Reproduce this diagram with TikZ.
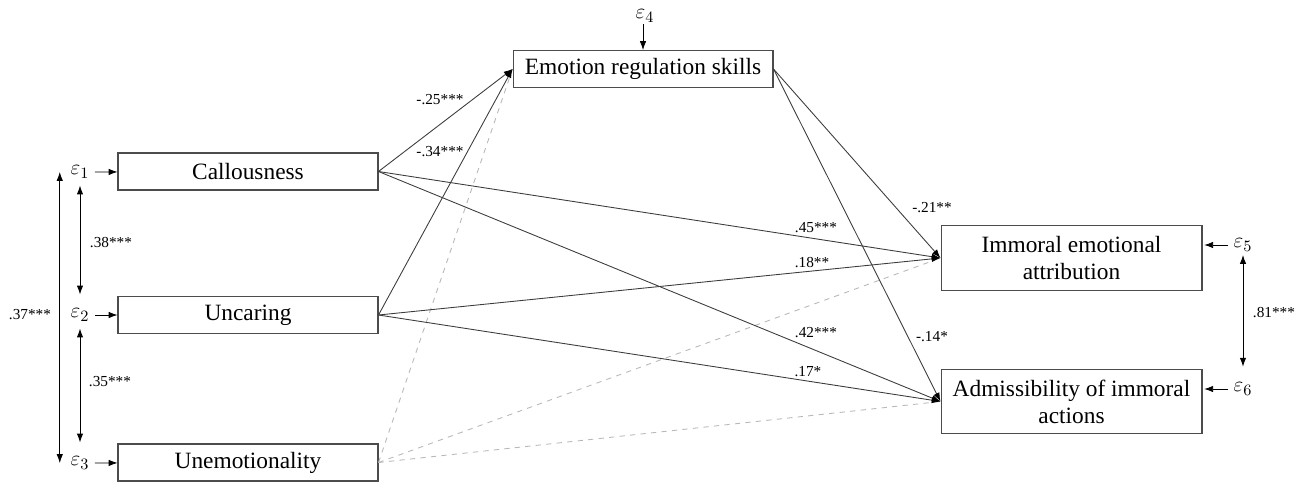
\documentclass[tikz,border=0pt]{standalone}
\usepackage{amsmath,amssymb}
\usepackage{fontspec}
\setmainfont{Liberation Serif}
\usepackage{xcolor}
\usepackage{tikz}
\usetikzlibrary{arrows.meta}
\definecolor{pathgray}{HTML}{3C3C3C}
\definecolor{nsgray}{HTML}{B8B8B8}

\begin{document}
\begin{tikzpicture}[>={Latex[length=5pt,width=3.6pt,color=black]}, x=0.02cm, y=-0.02cm,
  var/.style={draw=black!70, line width=0.6pt, minimum width=5.2cm, minimum height=0.74cm,
    inner sep=0pt, font=\fontsize{13.3}{15.5}\selectfont},
  outvar/.style={var, minimum width=5.22cm, minimum height=1.29cm, align=center},
  err/.style={inner sep=1pt, font=\fontsize{12.5}{14}\selectfont},
  coef/.style={inner sep=0pt, font=\fontsize{8.7}{10}\selectfont},
  sig/.style={->, pathgray, line width=0.5pt},
  nonsig/.style={-, nsgray, dashed, line width=0.5pt},
  cov/.style={<->, black, line width=0.5pt, shorten <=3pt, shorten >=7pt}]
  \useasboundingbox (0,0) rectangle (1303,481);
  % variables
  \node[var] (call) at (248,171.5) {Callousness};
  \node[var] (uncar) at (248,315) {Uncaring};
  \node[var] (unemo) at (248,462.5) {Unemotionality};
  \node[var] (ers) at (643,69) {Emotion regulation skills};
  \node[outvar] (iea) at (1071.5,258) {Immoral emotional\\attribution};
  \node[outvar] (adm) at (1071.5,401.5) {Admissibility of immoral\\actions};
  % error terms
  \node[err] (e1) at (80,172) {$\varepsilon_1$};
  \node[err] (e2) at (80,315) {$\varepsilon_2$};
  \node[err] (e3) at (80,463) {$\varepsilon_3$};
  \node[err] (e4) at (645,16) {$\varepsilon_4$};
  \node[err] (e5) at (1243,245) {$\varepsilon_5$};
  \node[err] (e6) at (1243,389) {$\varepsilon_6$};
  \draw[->] ([xshift=2pt]e1.east) -- (call);
  \draw[->] ([xshift=2pt]e2.east) -- (uncar);
  \draw[->] ([xshift=2pt]e3.east) -- (unemo);
  \draw[->] (e4.south -| ers.north) -- (ers.north);
  \draw[->] ([xshift=-2pt]e5.west) -- ([xshift=1pt]e5.west -| iea.east);
  \draw[->] ([xshift=-2pt]e6.west) -- ([xshift=1pt]e6.west -| adm.east);
  % covariances
  \draw[cov] (e1.south) -- (e2.north);
  \draw[cov] (e2.south) -- (e3.north);
  \draw[<->] ([xshift=-5pt]e1.west) -- ([xshift=-5pt]e3.west);
  \draw[cov, shorten <=1pt, shorten >=8pt] (e5.south) -- (e6.north);
  \node[coef] (c13) at (30,315) {.37***};
  \node[coef] (c12) at (111,243) {.38***};
  \node[coef] (c23) at (110,382) {.35***};
  \node[coef] (c56) at (1274,313) {.81***};
  % paths
  \draw[nonsig] (unemo.east) -- (ers.west);
  \draw[nonsig] (unemo.east) -- (iea.west);
  \draw[nonsig] (unemo.east) -- (adm.west);
  \draw[sig] (call.east) -- (ers.west);
  \draw[sig] (uncar.east) -- (ers.west);
  \draw[sig] (call.east) -- (iea.west);
  \draw[sig] (call.east) -- (adm.west);
  \draw[sig] (uncar.east) -- (iea.west);
  \draw[sig] (uncar.east) -- (adm.west);
  \draw[sig] (ers.east) -- (iea.west);
  \draw[sig] (ers.east) -- (adm.west);
  \node[coef] (p1) at (440,100) {-.25***};
  \node[coef] (p2) at (440,152) {-.34***};
  \node[coef] (p3) at (816,228) {.45***};
  \node[coef] (p4) at (812,263) {.18**};
  \node[coef] (p5) at (816,333) {.42***};
  \node[coef] (p6) at (808,372) {.17*};
  \node[coef] (p7) at (932,208) {-.21**};
  \node[coef] (p8) at (932,337) {-.14*};
\end{tikzpicture}
\end{document}
